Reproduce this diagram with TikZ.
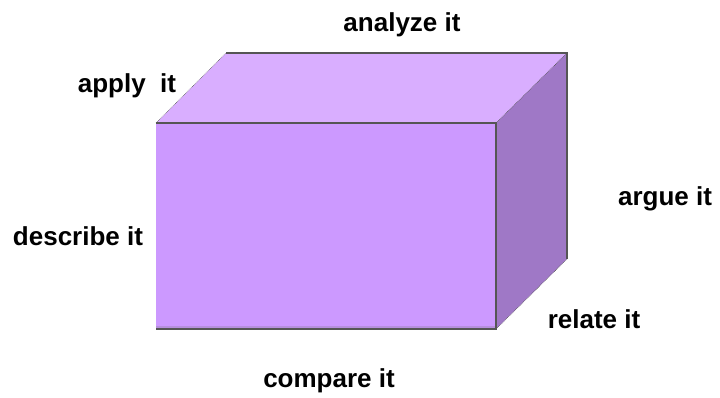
\documentclass[tikz,border=0pt]{standalone}
\usepackage{fontspec}
\setmainfont{Liberation Sans}
\usepackage{tikz}
\usetikzlibrary{calc, positioning}
\definecolor{frontc}{HTML}{CC99FF}
\definecolor{topc}{HTML}{D9AEFF}
\definecolor{sidec}{HTML}{9F78C6}
\definecolor{edgec}{HTML}{555555}
\begin{document}
\begin{tikzpicture}[x=1pt, y=1pt,
        lbl/.style={anchor=base, inner sep=0pt, font=\fontsize{26}{29}\selectfont\bfseries},
        edge/.style={draw=edgec, line width=1.1pt},
        diag/.style={draw=edgec, line width=0.6pt, densely dotted}]
            \useasboundingbox (0,0) rectangle (720,397);
            % corners of the box
            \coordinate (FBL) at (156,68);
            \coordinate (FBR) at (496,68);
            \coordinate (FTR) at (496,274);
            \coordinate (FTL) at (156,274);
            \coordinate (BTL) at (226,344);
            \coordinate (BTR) at (567,344);
            \coordinate (BBR) at (567,138);
            % faces
            \fill[topc] (FTL) -- (BTL) -- (BTR) -- (FTR) -- cycle;
            \fill[sidec] (FTR) -- (BTR) -- (BBR) -- (FBR) -- cycle;
            \fill[frontc] (FBL) rectangle (FTR);
            \fill[frontc!85!black!90] (FBL) rectangle ($(FBR)+(0,3)$);
            % edges
            \draw[diag] (FTL) -- (BTL);
            \draw[diag] (FTR) -- (BTR);
            \draw[diag] (FBR) -- (BBR);
            \draw[edge] (BTL) -- (BTR) -- (BBR);
            \draw[edge] (FBL) -- (FBR) -- (FTR) -- (FTL);
            % labels
            \node[lbl] (analyze) at (402,365) {analyze it};
            \node[lbl] (apply) at (127,304) {apply\ \ it};
            \node[lbl] (describe) at (78,152) {describe it};
            \node[lbl] (argue) at (665,192) {argue it};
            \node[lbl] (relate) at (594,69) {relate it};
            \node[lbl] (compare) at (329,10) {compare it};
        \end{tikzpicture}
\end{document}
